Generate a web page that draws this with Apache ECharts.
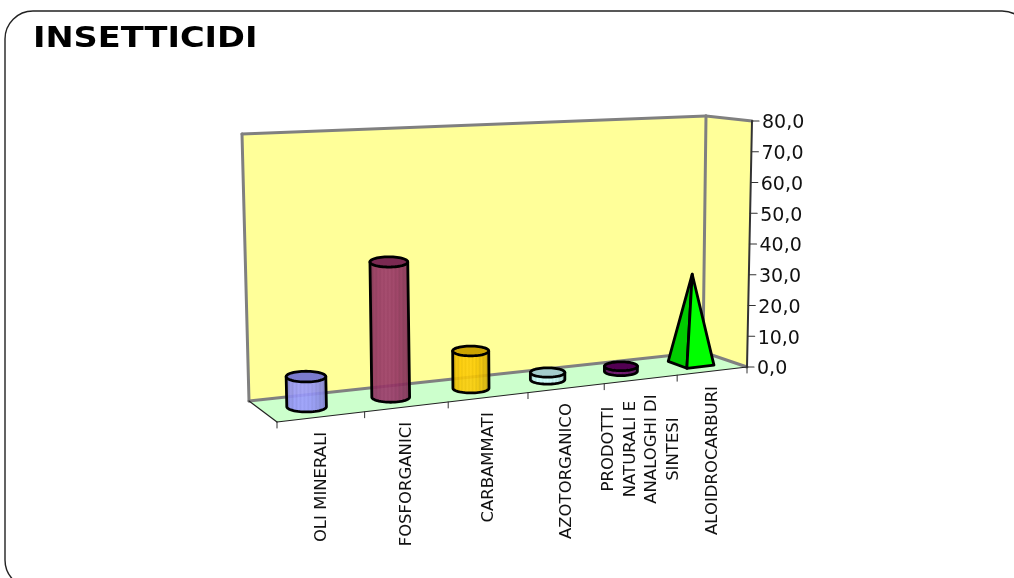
<!DOCTYPE html>
<html>
<head>
<meta charset="utf-8">
<style>html,body{margin:0;padding:0;background:#fff}#c{width:1014px;height:578px}</style>
<script src="https://cdn.jsdelivr.net/npm/echarts@6/dist/echarts.min.js"></script>
</head>
<body>
<div id="c"></div>
<script>
var titleText = 'INSETTICIDI';
var categories = ['OLI MINERALI', 'FOSFORGANICI', 'CARBAMMATI', 'AZOTORGANICO',
  'PRODOTTI\nNATURALI E\nANALOGHI DI\nSINTESI', 'ALOIDROCARBURI'];
var values = [8.9, 41, 11.5, 2.2, 1.6, 29.3];
var barColors = ['#9999FF', '#993366', '#FFCC00', '#CCFFFF', '#660066', '#00FF00'];
var yTicks = [0, 10, 20, 30, 40, 50, 60, 70, 80];
var yTickLabels = ['0,0', '10,0', '20,0', '30,0', '40,0', '50,0', '60,0', '70,0', '80,0'];

var GL = 277, GT = 121, GW = 470, GH = 246;
var persp = 0.146;
var FL = [277, 422], FR = [747, 367], BL = [249, 401], BR = [703, 352];
// height in px of the full 0-80 scale and the lean of the vertical, per floor corner
var hFL = 278, hFR = 246, hBL = 267, hBR = 236;
var lFL = -6, lFR = 5, lBL = -7, lBR = 3;
function lerp(a, b, t) { return a + (b - a) * t; }
function warp(u) { return (1 + persp) * u / (1 + persp * u); }
// u along the category axis, d depth (0 front, 1 back), v fraction of the value scale
function project(u, d, v) {
  var w = warp(u);
  var x = lerp(lerp(FL[0], FR[0], w), lerp(BL[0], BR[0], w), d);
  var y = lerp(lerp(FL[1], FR[1], w), lerp(BL[1], BR[1], w), d);
  var h = lerp(lerp(hFL, hFR, w), lerp(hBL, hBR, w), d);
  var l = lerp(lerp(lFL, lFR, w), lerp(lBL, lBR, w), d);
  return [x + l * v, y - h * v];
}
function toU(px) { return (px - GL) / GW; }
function toV(py) { return (GT + GH - py) / GH; }

function rgb(hex) { return [1, 3, 5].map(function (i) { return parseInt(hex.substr(i, 2), 16); }); }
function shade(c, f) {
  return 'rgb(' + c.map(function (n) {
    return Math.max(0, Math.min(255, Math.round(f <= 1 ? n * f : n + (255 - n) * (f - 1))));
  }).join(',') + ')';
}
function sideFill(hex) {
  var c = rgb(hex), stops = [], n = 22;
  for (var i = 0; i <= n; i++) {
    var t = i / n;
    var f = 0.76 + 0.22 * Math.sin(Math.PI * Math.pow(t, 0.8)) + (i % 2 ? 0.06 : -0.02);
    stops.push({ offset: t, color: shade(c, f) });
  }
  return { type: 'linear', x: 0, y: 0, x2: 1, y2: 0, colorStops: stops };
}
function pts() { return Array.prototype.slice.call(arguments); }
function poly(points, style, z2) {
  return { type: 'polygon', shape: { points: points }, style: style, z2: z2 || 0, silent: true };
}
function seg(a, b, stroke, width, z2) {
  return { type: 'line', shape: { x1: a[0], y1: a[1], x2: b[0], y2: b[1] },
    style: { stroke: stroke, lineWidth: width, lineCap: 'round' }, z2: z2 || 0, silent: true };
}

var measureCtx = document.createElement('canvas').getContext('2d');
var labelFont = '16.5px "DejaVu Sans"';

function renderFrame(params, api) {
  var kids = [];
  var n = categories.length;
  kids.push(poly(pts(project(0, 1, 0), project(1, 1, 0), project(1, 0, 0), project(0, 0, 0)), { fill: '#CCFFCC' }));
  kids.push(poly(pts(project(0, 1, 0), project(1, 1, 0), project(1, 1, 1), project(0, 1, 1)), { fill: '#FFFF99' }));
  kids.push(poly(pts(project(1, 1, 0), project(1, 0, 0), project(1, 0, 1), project(1, 1, 1)), { fill: '#FFFF99' }));
  var grey = '#808080';
  kids.push(seg(project(0, 1, 0), project(0, 1, 1), grey, 3));
  kids.push(seg(project(0, 1, 1), project(1, 1, 1), grey, 3));
  kids.push(seg(project(0, 1, 0), project(1, 1, 0), grey, 3));
  kids.push(seg(project(1, 1, 0), project(1, 1, 1), grey, 3));
  kids.push(seg(project(1, 1, 1), project(1, 0, 1), grey, 3));
  kids.push(seg(project(1, 1, 0), project(1, 0, 0), grey, 3));
  kids.push(seg(project(0, 0, 0), project(1, 0, 0), '#222', 1.2));
  kids.push(seg(project(0, 0, 0), project(0, 1, 0), '#222', 1.2));
  kids.push(seg(project(1, 0, 0), project(1, 0, 1), '#333', 2));
  for (var k = 0; k <= n; k++) {
    var t = project(k / n, 0, 0);
    kids.push(seg(t, [t[0], t[1] + 6], '#333', 1));
  }
  yTicks.forEach(function (val) {
    var p = project(1, 0, toV(api.coord([0, val])[1]));
    kids.push(seg(p, [p[0] + 7, p[1]], '#333', 1.2));
  });
  categories.forEach(function (label, i) {
    var c = api.coord([i, 0]);
    var p = project(toU(c[0]), 0, 0);
    measureCtx.font = labelFont;
    var longest = Math.max.apply(null, label.split('\n').map(function (s) { return measureCtx.measureText(s).width; }));
    kids.push({
      type: 'text', x: p[0], y: p[1] + 15 + longest / 2, rotation: Math.PI / 2, silent: true,
      style: { text: label, font: labelFont, fill: '#111', align: 'center', verticalAlign: 'middle', lineHeight: 21.7 }
    });
  });
  return { type: 'group', children: kids };
}

function renderBar(params, api) {
  var i = api.value(0), val = api.value(1), hex = barColors[i];
  var n = categories.length;
  var base = api.coord([i, 0]), top = api.coord([i, val]);
  var u = toU(base[0]), v = toV(top[1]);
  var d = 0.5;
  var kids = [];
  var black = { stroke: '#000', lineWidth: 2.8, lineJoin: 'round' };
  if (i === n - 1) {
    var du = 0.196 / n, dd = 0.22;
    var apex = project(u, d, v);
    var left = project(u - du, d + dd, 0), front = project(u - du, d - dd, 0), right = project(u + du, d - dd, 0);
    kids.push(poly(pts(left, front, apex), Object.assign({ fill: shade(rgb(hex), 0.8) }, black)));
    kids.push(poly(pts(front, right, apex), Object.assign({ fill: hex }, black)));
    return { type: 'group', children: kids };
  }
  var bandL = project(u - 0.5 / n, d, 0)[0], bandR = project(u + 0.5 / n, d, 0)[0];
  var rx = (bandR - bandL) * 0.23, ry = rx * 0.27;
  var b = project(u, d, 0), tp = project(u, d, v);
  var side = [], cap = [], m = 28, a;
  side.push([tp[0] - rx, tp[1]]);
  side.push([tp[0] + rx, tp[1]]);
  for (var j = 0; j <= m; j++) {
    a = Math.PI * j / m;
    side.push([b[0] + rx * Math.cos(a), b[1] + ry * Math.sin(a)]);
  }
  for (var q = 0; q < 2 * m; q++) {
    a = Math.PI * q / m;
    cap.push([tp[0] + rx * Math.cos(a), tp[1] + ry * Math.sin(a)]);
  }
  kids.push(poly(side, Object.assign({ fill: sideFill(hex), fillOpacity: 0.9 }, black)));
  kids.push(poly(cap, Object.assign({ fill: shade(rgb(hex), 0.8) }, black)));
  return { type: 'group', children: kids };
}

var rich = {};
yTickLabels.forEach(function (s, i) {
  rich['t' + i] = { fontFamily: 'DejaVu Sans', fontSize: 19, color: '#111', padding: [5, 0, 0, 5 * i / 8] };
});

var chart = echarts.init(document.getElementById('c'), null, { renderer: 'canvas' });
chart.setOption({
  animation: false,
  backgroundColor: '#fff',
  graphic: [{
    type: 'rect', silent: true, z: -10,
    shape: { x: 5, y: 11, width: 1025, height: 577, r: 28 },
    style: { fill: 'none', stroke: '#222', lineWidth: 1.4 }
  }, {
    type: 'text', silent: true, x: 33, y: 26, scaleX: 1.2,
    style: { text: titleText, font: 'bold 28px "DejaVu Sans"', fill: '#000' }
  }],
  grid: { left: GL, top: GT, width: GW, height: GH },
  xAxis: { type: 'category', data: categories, show: false },
  yAxis: {
    type: 'value', position: 'right', min: 0, max: 80, interval: 10,
    axisLine: { show: false }, axisTick: { show: false }, splitLine: { show: false },
    axisLabel: {
      show: true, margin: 10, align: 'left', rich: rich,
      formatter: function (val, idx) { return '{t' + idx + '|' + yTickLabels[idx] + '}'; }
    }
  },
  series: [
    { type: 'custom', silent: true, z: 1, data: [[0, 0]], renderItem: renderFrame },
    { type: 'custom', silent: true, z: 2, encode: { x: 0, y: 1 },
      data: values.map(function (v, i) { return [i, v]; }), renderItem: renderBar }
  ]
});
</script>
</body>
</html>
